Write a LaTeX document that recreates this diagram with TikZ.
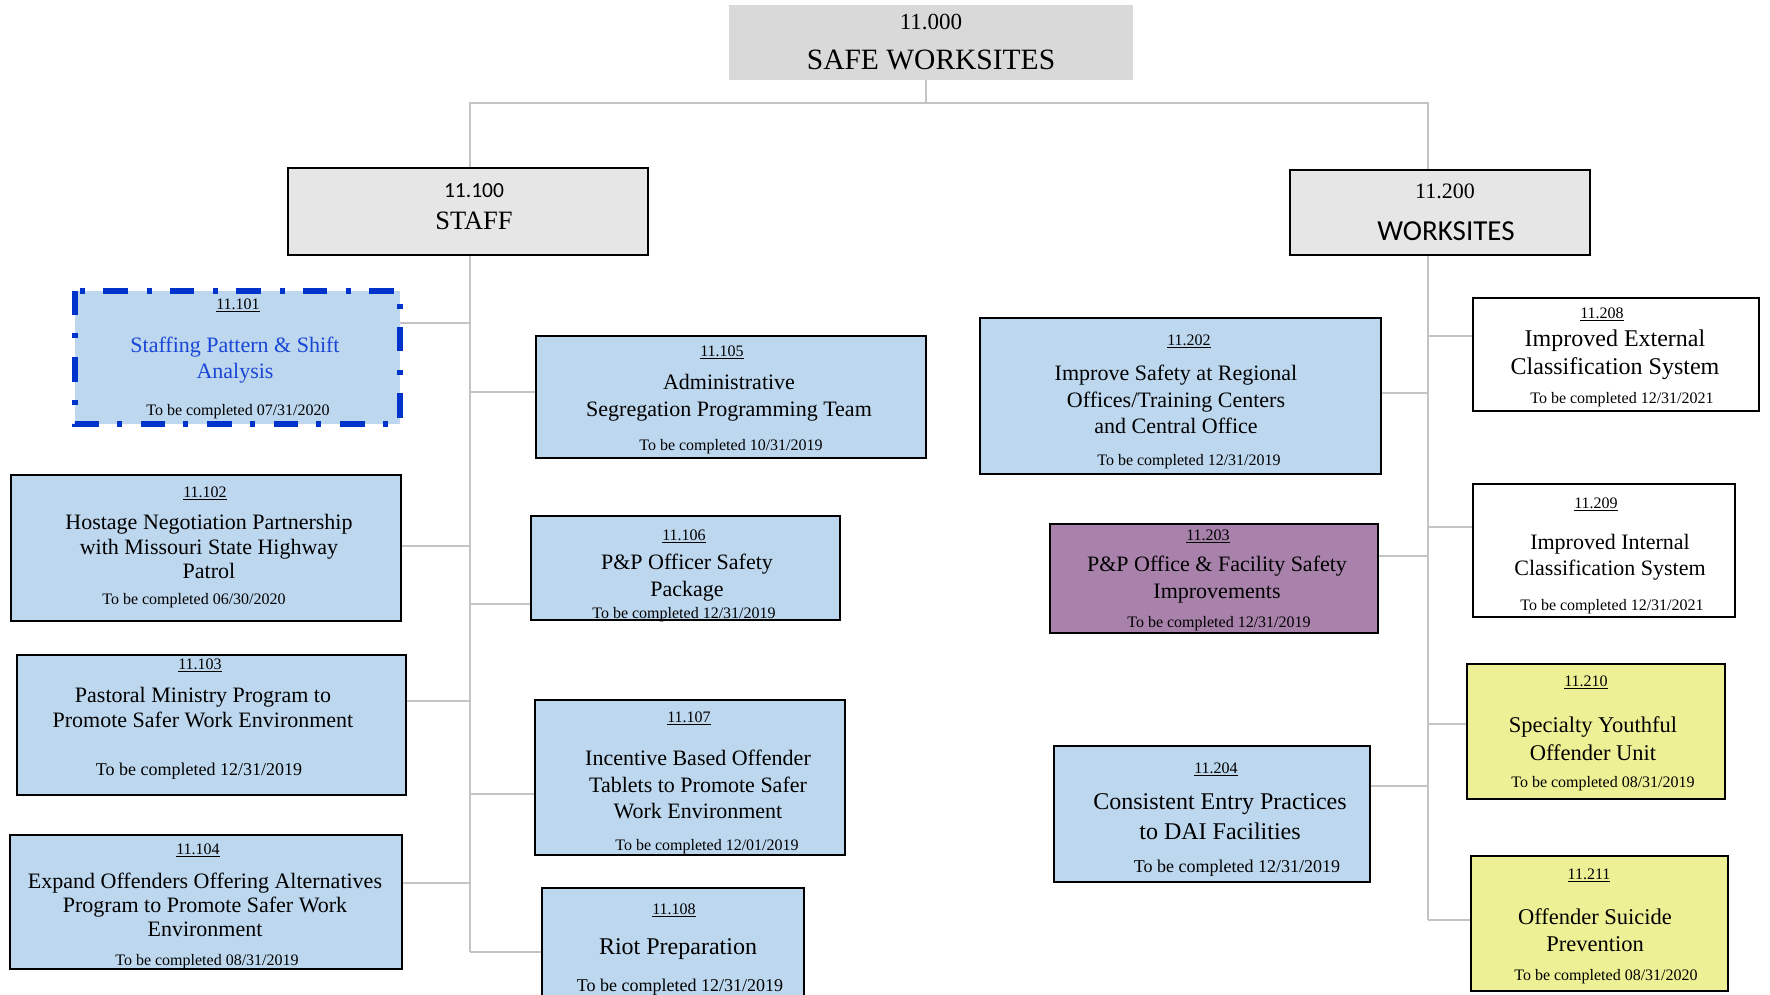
\documentclass[tikz,border=0pt]{standalone}
\usepackage{fontspec}
\setmainfont{Liberation Serif}
\newfontfamily\calibri{Carlito}
\usepackage{tikz}
\usetikzlibrary{positioning}
\definecolor{taskblue}{RGB}{189,215,238}
\definecolor{taskpurple}{RGB}{168,130,171}
\definecolor{taskyellow}{RGB}{238,240,150}
\definecolor{headgray}{RGB}{217,217,217}
\definecolor{subgray}{RGB}{230,230,230}
\definecolor{linkgray}{RGB}{196,196,196}
\definecolor{markblue}{RGB}{0,51,204}
\definecolor{textblue}{RGB}{25,70,215}
\tikzset{x=1pt,y=-1pt,
    taskbox/.style={draw=black, line width=2.8pt, inner sep=0pt},
    tasknum/.style={yshift=-1.5pt, font=\fontsize{16}{18}\selectfont},
    tasktitle/.style={yshift=-2.5pt, align=center, font=\fontsize{22}{26}\selectfont},
    taskdue/.style={yshift=-2.5pt, font=\fontsize{16}{18}\selectfont},
    link/.style={draw=linkgray, line width=2pt},}
\begin{document}
\begin{tikzpicture}
  \path[use as bounding box, clip] (0,0) rectangle (1770,994);
  % top level
  \node[fill=headgray, minimum width=404pt, minimum height=75pt] (root) at (931,42.5) {};
  \node[font=\fontsize{23}{26}\selectfont] (root num) at (931,22) {11.000};
  \node[font=\fontsize{29.5}{32}\selectfont] (root name) at (931,60) {SAFE WORKSITES};
  \node[taskbox, fill=subgray, minimum width=360pt, minimum height=87pt] (staff) at (468,211.5) {};
  \node[font=\calibri\fontsize{21.5}{24}\selectfont] (staff num) at (474,191) {11.100};
  \node[font=\fontsize{26.5}{30}\selectfont] (staff name) at (474,221) {STAFF};
  \node[taskbox, fill=subgray, minimum width=300pt, minimum height=85pt] (wks) at (1440,212.5) {};
  \node[font=\fontsize{22}{25}\selectfont] (wks num) at (1445,191) {11.200};
  \node[font=\calibri\fontsize{29}{32}\selectfont] (wks name) at (1446,231) {WORKSITES};
  % staff tasks
  \node[fill=taskblue, minimum width=325pt, minimum height=133pt] (b101) at (237.5,357.5) {};
  \draw[markblue, line width=6pt, dash pattern=on 24.5pt off 18pt on 5pt off 19pt] (b101.north west) rectangle (b101.south east);
  \node[tasknum] (n101) at (238,304) {\underline{11.101}};
  \node[tasktitle, text=textblue] (t101) at (235,357.5) {Staffing Pattern \& Shift\\Analysis};
  \node[taskdue] (d101) at (238,409) {To be completed 07/31/2020};
  \node[taskbox, fill=taskblue, minimum width=390pt, minimum height=146pt] (b102) at (206,548) {};
  \node[tasknum] (n102) at (205,492) {\underline{11.102}};
  \node[tasktitle, font=\fontsize{22}{24.5}\selectfont] (t102) at (209,544) {Hostage Negotiation Partnership\\with Missouri State Highway\\Patrol};
  \node[taskdue] (d102) at (194,598) {To be completed 06/30/2020};
  \node[taskbox, fill=taskblue, minimum width=389pt, minimum height=140pt] (b103) at (211.5,725) {};
  \node[tasknum] (n103) at (200,664) {\underline{11.103}};
  \node[tasktitle, font=\fontsize{22}{25}\selectfont] (t103) at (203,705.5) {Pastoral Ministry Program to\\Promote Safer Work Environment};
  \node[taskdue, font=\fontsize{18}{20}\selectfont] (d103) at (199,769) {To be completed 12/31/2019};
  \node[taskbox, fill=taskblue, minimum width=392pt, minimum height=134pt] (b104) at (206,902) {};
  \node[tasknum] (n104) at (198,849) {\underline{11.104}};
  \node[tasktitle, font=\fontsize{22}{24}\selectfont] (t104) at (205,902) {Expand Offenders Offering Alternatives\\Program to Promote Safer Work\\Environment};
  \node[taskdue] (d104) at (207,959) {To be completed 08/31/2019};
  \node[taskbox, fill=taskblue, minimum width=390pt, minimum height=122pt] (b105) at (731,397) {};
  \node[tasknum] (n105) at (722,351) {\underline{11.105}};
  \node[tasktitle, font=\fontsize{22}{27}\selectfont] (t105) at (729,395.5) {Administrative\\Segregation Programming Team};
  \node[taskdue] (d105) at (731,444) {To be completed 10/31/2019};
  \node[taskbox, fill=taskblue, minimum width=309pt, minimum height=104pt] (b106) at (685.5,568) {};
  \node[tasknum] (n106) at (684,535) {\underline{11.106}};
  \node[tasktitle, font=\fontsize{22}{27}\selectfont] (t106) at (687,575.5) {P\&P Officer Safety\\Package};
  \node[taskdue] (d106) at (684,612) {To be completed 12/31/2019};
  \node[taskbox, fill=taskblue, minimum width=310pt, minimum height=155pt] (b107) at (690,777.5) {};
  \node[tasknum] (n107) at (689,717) {\underline{11.107}};
  \node[tasktitle, font=\fontsize{22}{26.5}\selectfont] (t107) at (698,782) {Incentive Based Offender\\Tablets to Promote Safer\\Work Environment};
  \node[taskdue] (d107) at (707,844) {To be completed 12/01/2019};
  \node[taskbox, fill=taskblue, minimum width=262pt, minimum height=130pt] (b108) at (673,953) {};
  \node[tasknum] (n108) at (674,909) {\underline{11.108}};
  \node[tasktitle, font=\fontsize{24}{28}\selectfont] (t108) at (678,947) {Riot Preparation};
  \node[taskdue, font=\fontsize{18}{20}\selectfont] (d108) at (680,985) {To be completed 12/31/2019};
  % worksite tasks
  \node[taskbox, fill=taskblue, minimum width=401pt, minimum height=156pt] (b202) at (1180.5,396) {};
  \node[tasknum] (n202) at (1189,340) {\underline{11.202}};
  \node[tasktitle, font=\fontsize{22}{26.5}\selectfont] (t202) at (1176,397) {Improve Safety at Regional\\Offices/Training Centers\\and Central Office};
  \node[taskdue] (d202) at (1189,459) {To be completed 12/31/2019};
  \node[taskbox, fill=taskpurple, minimum width=328pt, minimum height=109pt] (b203) at (1214,578.5) {};
  \node[tasknum] (n203) at (1208,535) {\underline{11.203}};
  \node[tasktitle, font=\fontsize{22}{27}\selectfont] (t203) at (1217,577.5) {P\&P Office \& Facility Safety\\Improvements};
  \node[taskdue] (d203) at (1219,621) {To be completed 12/31/2019};
  \node[taskbox, fill=taskblue, minimum width=316pt, minimum height=136pt] (b204) at (1212,814) {};
  \node[tasknum] (n204) at (1216,768) {\underline{11.204}};
  \node[tasktitle, font=\fontsize{24}{30}\selectfont] (t204) at (1220,814) {Consistent Entry Practices\\to DAI Facilities};
  \node[taskdue, font=\fontsize{18}{20}\selectfont] (d204) at (1237,866) {To be completed 12/31/2019};
  \node[taskbox, fill=white, minimum width=286pt, minimum height=113pt] (b208) at (1616,354.5) {};
  \node[tasknum] (n208) at (1602,313) {\underline{11.208}};
  \node[tasktitle, font=\fontsize{24}{28}\selectfont] (t208) at (1615,352) {Improved External\\Classification System};
  \node[taskdue] (d208) at (1622,397) {To be completed 12/31/2021};
  \node[taskbox, fill=white, minimum width=262pt, minimum height=133pt] (b209) at (1604,550.5) {};
  \node[tasknum] (n209) at (1596,503) {\underline{11.209}};
  \node[tasktitle, font=\fontsize{22}{26}\selectfont] (t209) at (1610,555) {Improved Internal\\Classification System};
  \node[taskdue] (d209) at (1612,604) {To be completed 12/31/2021};
  \node[taskbox, fill=taskyellow, minimum width=258pt, minimum height=135pt] (b210) at (1596,731.5) {};
  \node[tasknum] (n210) at (1586,681) {\underline{11.210}};
  \node[tasktitle, font=\fontsize{22.5}{28}\selectfont] (t210) at (1593,736) {Specialty Youthful\\Offender Unit};
  \node[taskdue] (d210) at (1603,781) {To be completed 08/31/2019};
  \node[taskbox, fill=taskyellow, minimum width=257pt, minimum height=135pt] (b211) at (1599.5,923.5) {};
  \node[tasknum] (n211) at (1589,874) {\underline{11.211}};
  \node[tasktitle, font=\fontsize{22.5}{27}\selectfont] (t211) at (1595,927.5) {Offender Suicide\\Prevention};
  \node[taskdue] (d211) at (1606,974) {To be completed 08/31/2020};
  % connectors
  \coordinate (bus) at (926,103);
  \coordinate (s101) at (470,323);
  \coordinate (s102) at (470,546);
  \coordinate (s103) at (470,701);
  \coordinate (s104) at (470,883);
  \coordinate (s105) at (470,392);
  \coordinate (s106) at (470,604);
  \coordinate (s107) at (470,794);
  \coordinate (s108) at (470,952);
  \coordinate (w202) at (1428,393);
  \coordinate (w203) at (1428,556);
  \coordinate (w204) at (1428,786);
  \coordinate (w208) at (1428,336);
  \coordinate (w209) at (1428,527);
  \coordinate (w210) at (1428,724);
  \coordinate (w211) at (1428,920);
  \draw[link] (bus |- root.south) -- (bus);
  \draw[link] (s101 |- staff.north) |- (bus) -| (w208 |- wks.north);
  \draw[link] (s101 |- staff.south) -- (s108);
  \draw[link] (w208 |- wks.south) -- (w211);
  \foreach \i in {101,102,103,104}
    \draw[link] (s\i) -- (s\i -| b\i.east);
  \foreach \i in {105,106,107,108}
    \draw[link] (s\i) -- (s\i -| b\i.west);
  \foreach \i in {202,203,204}
    \draw[link] (w\i) -- (w\i -| b\i.east);
  \foreach \i in {208,209,210,211}
    \draw[link] (w\i) -- (w\i -| b\i.west);
\end{tikzpicture}
\end{document}
